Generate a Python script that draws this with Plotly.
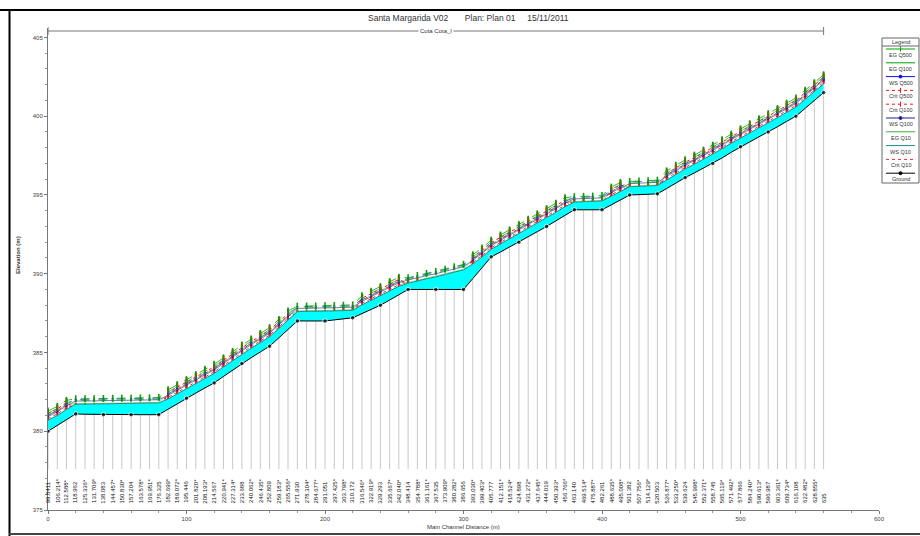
import plotly.graph_objects as go

# ---------------- data ----------------
dist = [0, 6.7, 13.3, 20, 26.7, 33.3, 40, 46.7, 53.3, 60, 66.7, 73.3, 80, 86.7, 93.3,
        100, 106.7, 113.3, 120, 126.7, 133.3, 140, 146.7, 153.3, 160, 166.7, 173.3,
        180, 186.7, 193.3, 200, 206.7, 213.3, 220, 226.7, 233.3, 240, 246.7, 253.3,
        260, 266.7, 273.3, 280, 286.7, 293.3, 300, 306.7, 313.3, 320, 326.7, 333.3,
        340, 346.7, 353.3, 360, 366.7, 373.3, 380, 386.7, 393.3, 400, 406.7, 413.3,
        420, 426.7, 433.3, 440, 446.7, 453.3, 460, 466.7, 473.3, 480, 486.7, 493.3,
        500, 506.7, 513.3, 520, 526.7, 533.3, 540, 546.7, 553.3, 560]

ground = [380.00, 380.37, 380.73, 381.10, 381.08, 381.07, 381.05, 381.05, 381.05, 381.05,
          381.05, 381.05, 381.05, 381.40, 381.75, 382.10, 382.42, 382.75, 383.07, 383.48,
          383.89, 384.30, 384.67, 385.03, 385.40, 385.93, 386.47, 387.00, 387.00, 387.00,
          387.00, 387.07, 387.13, 387.20, 387.47, 387.73, 388.00, 388.33, 388.67, 389.00,
          389.00, 389.00, 389.00, 389.00, 389.00, 389.00, 389.69, 390.38, 391.07, 391.38,
          391.69, 392.00, 392.33, 392.67, 393.00, 393.35, 393.71, 394.06, 394.06, 394.06,
          394.06, 394.37, 394.69, 395.00, 395.02, 395.05, 395.07, 395.41, 395.76, 396.10,
          396.40, 396.70, 397.00, 397.35, 397.71, 398.06, 398.37, 398.69, 399.00, 399.33,
          399.67, 400.00, 400.50, 401.00, 401.50]

ws_q10 = [380.70, 381.00, 381.38, 381.72, 381.72, 381.73, 381.74, 381.75, 381.75, 381.76,
          381.77, 381.78, 381.80, 382.05, 382.38, 382.70, 383.02, 383.35, 383.67, 384.08,
          384.49, 384.90, 385.27, 385.63, 386.00, 386.52, 387.05, 387.60, 387.61, 387.61,
          387.62, 387.64, 387.66, 387.68, 388.02, 388.31, 388.60, 388.92, 389.20, 389.40,
          389.55, 389.68, 389.80, 389.95, 390.10, 390.25, 390.62, 391.05, 391.55, 391.88,
          392.20, 392.55, 392.88, 393.22, 393.55, 393.90, 394.25, 394.55, 394.57, 394.59,
          394.62, 394.92, 395.22, 395.52, 395.55, 395.57, 395.60, 395.95, 396.30, 396.65,
          396.95, 397.27, 397.58, 397.93, 398.28, 398.62, 398.94, 399.26, 399.58, 399.91,
          400.25, 400.58, 401.07, 401.55, 402.05]

ws_q100 = [380.93, 381.23, 381.61, 381.92, 381.92, 381.93, 381.94, 381.95, 381.95, 381.96,
           381.97, 381.98, 382.00, 382.28, 382.61, 382.93, 383.25, 383.58, 383.90, 384.31,
           384.72, 385.13, 385.50, 385.86, 386.23, 386.75, 387.28, 387.80, 387.81, 387.81,
           387.82, 387.84, 387.86, 387.88, 388.25, 388.54, 388.83, 389.15, 389.43, 389.60,
           389.75, 389.88, 390.00, 390.15, 390.30, 390.45, 390.85, 391.28, 391.78, 392.11,
           392.43, 392.78, 393.11, 393.45, 393.78, 394.13, 394.48, 394.75, 394.77, 394.79,
           394.82, 395.15, 395.45, 395.72, 395.75, 395.77, 395.80, 396.18, 396.53, 396.88,
           397.18, 397.50, 397.81, 398.16, 398.51, 398.85, 399.17, 399.49, 399.81, 400.14,
           400.48, 400.81, 401.30, 401.78, 402.28]

ws_q500 = [381.03, 381.33, 381.71, 382.02, 382.02, 382.03, 382.04, 382.05, 382.05, 382.06,
           382.07, 382.08, 382.10, 382.38, 382.71, 383.03, 383.35, 383.68, 384.00, 384.41,
           384.82, 385.23, 385.60, 385.96, 386.33, 386.85, 387.38, 387.90, 387.91, 387.91,
           387.92, 387.94, 387.96, 387.98, 388.35, 388.64, 388.93, 389.25, 389.53, 389.70,
           389.85, 389.98, 390.10, 390.25, 390.40, 390.55, 390.95, 391.38, 391.88, 392.21,
           392.53, 392.88, 393.21, 393.55, 393.88, 394.23, 394.58, 394.85, 394.87, 394.89,
           394.92, 395.25, 395.55, 395.82, 395.85, 395.87, 395.90, 396.28, 396.63, 396.98,
           397.28, 397.60, 397.91, 398.26, 398.61, 398.95, 399.27, 399.59, 399.91, 400.24,
           400.58, 400.91, 401.40, 401.88, 402.38]

eg_q500 = [381.28, 381.58, 381.96, 382.06, 382.06, 382.07, 382.08, 382.09, 382.09, 382.10,
           382.11, 382.12, 382.14, 382.63, 382.96, 383.28, 383.60, 383.93, 384.25, 384.66,
           385.07, 385.48, 385.85, 386.21, 386.58, 387.10, 387.63, 387.94, 387.95, 387.95,
           387.96, 387.98, 388.00, 388.02, 388.60, 388.89, 389.18, 389.50, 389.78, 389.74,
           389.89, 390.02, 390.14, 390.29, 390.44, 390.59, 391.20, 391.63, 392.13, 392.46,
           392.78, 393.13, 393.46, 393.80, 394.13, 394.48, 394.83, 394.89, 394.91, 394.93,
           394.96, 395.50, 395.80, 395.86, 395.89, 395.91, 395.94, 396.53, 396.88, 397.23,
           397.53, 397.85, 398.16, 398.51, 398.86, 399.20, 399.52, 399.84, 400.16, 400.49,
           400.83, 401.16, 401.65, 402.13, 402.63]

eg_q100 = [381.15, 381.45, 381.83, 381.95, 381.95, 381.96, 381.97, 381.98, 381.98, 381.99,
           382.00, 382.01, 382.03, 382.50, 382.83, 383.15, 383.47, 383.80, 384.12, 384.53,
           384.94, 385.35, 385.72, 386.08, 386.45, 386.97, 387.50, 387.83, 387.84, 387.84,
           387.85, 387.87, 387.89, 387.91, 388.47, 388.76, 389.05, 389.37, 389.65, 389.63,
           389.78, 389.91, 390.03, 390.18, 390.33, 390.48, 391.07, 391.50, 392.00, 392.33,
           392.65, 393.00, 393.33, 393.67, 394.00, 394.35, 394.70, 394.78, 394.80, 394.82,
           394.85, 395.37, 395.67, 395.75, 395.78, 395.80, 395.83, 396.40, 396.75, 397.10,
           397.40, 397.72, 398.03, 398.38, 398.73, 399.07, 399.39, 399.71, 400.03, 400.36,
           400.70, 401.03, 401.52, 402.00, 402.50]

eg_q10 = [381.00, 381.30, 381.68, 381.75, 381.75, 381.76, 381.77, 381.78, 381.78, 381.79,
          381.80, 381.81, 381.83, 382.35, 382.68, 383.00, 383.32, 383.65, 383.97, 384.38,
          384.79, 385.20, 385.57, 385.93, 386.30, 386.82, 387.35, 387.63, 387.64, 387.64,
          387.65, 387.67, 387.69, 387.71, 388.32, 388.61, 388.90, 389.22, 389.50, 389.43,
          389.58, 389.71, 389.83, 389.98, 390.13, 390.28, 390.92, 391.35, 391.85, 392.18,
          392.50, 392.85, 393.18, 393.52, 393.85, 394.20, 394.55, 394.58, 394.60, 394.62,
          394.65, 395.22, 395.52, 395.55, 395.58, 395.60, 395.63, 396.25, 396.60, 396.95,
          397.25, 397.57, 397.88, 398.23, 398.58, 398.92, 399.24, 399.56, 399.88, 400.21,
          400.55, 400.88, 401.37, 401.85, 402.35]

crit_q500 = [381.12, 381.42, 381.80, 381.50, 381.48, 381.47, 381.45, 381.45, 381.45, 381.45,
             381.45, 381.45, 381.45, 382.47, 382.80, 383.12, 383.44, 383.77, 384.09, 384.50,
             384.91, 385.32, 385.69, 386.05, 386.42, 386.94, 387.47, 387.40, 387.40, 387.40,
             387.40, 387.47, 387.53, 387.60, 388.44, 388.73, 389.02, 389.34, 389.62, 389.40,
             389.40, 389.40, 389.40, 389.40, 389.40, 389.40, 391.04, 391.47, 391.97, 392.30,
             392.62, 392.97, 393.30, 393.64, 393.97, 394.32, 394.67, 394.46, 394.46, 394.46,
             394.46, 395.34, 395.64, 395.40, 395.42, 395.45, 395.47, 396.37, 396.72, 397.07,
             397.37, 397.69, 398.00, 398.35, 398.70, 399.04, 399.36, 399.68, 400.00, 400.33,
             400.67, 401.00, 401.49, 401.97, 402.47]

crit_q100 = [381.00, 381.30, 381.68, 381.42, 381.40, 381.39, 381.37, 381.37, 381.37, 381.37,
             381.37, 381.37, 381.37, 382.35, 382.68, 383.00, 383.32, 383.65, 383.97, 384.38,
             384.79, 385.20, 385.57, 385.93, 386.30, 386.82, 387.35, 387.32, 387.32, 387.32,
             387.32, 387.39, 387.45, 387.52, 388.32, 388.61, 388.90, 389.22, 389.50, 389.32,
             389.32, 389.32, 389.32, 389.32, 389.32, 389.32, 390.92, 391.35, 391.85, 392.18,
             392.50, 392.85, 393.18, 393.52, 393.85, 394.20, 394.55, 394.38, 394.38, 394.38,
             394.38, 395.22, 395.52, 395.32, 395.34, 395.37, 395.39, 396.25, 396.60, 396.95,
             397.25, 397.57, 397.88, 398.23, 398.58, 398.92, 399.24, 399.56, 399.88, 400.21,
             400.55, 400.88, 401.37, 401.85, 402.35]

crit_q10 = [380.80, 381.10, 381.48, 381.32, 381.30, 381.29, 381.27, 381.27, 381.27, 381.27,
            381.27, 381.27, 381.27, 382.15, 382.48, 382.80, 383.12, 383.45, 383.77, 384.18,
            384.59, 385.00, 385.37, 385.73, 386.10, 386.62, 387.15, 387.22, 387.22, 387.22,
            387.22, 387.29, 387.35, 387.42, 388.12, 388.41, 388.70, 389.02, 389.30, 389.22,
            389.22, 389.22, 389.22, 389.22, 389.22, 389.22, 390.72, 391.15, 391.65, 391.98,
            392.30, 392.65, 392.98, 393.32, 393.65, 394.00, 394.35, 394.28, 394.28, 394.28,
            394.28, 395.02, 395.32, 395.22, 395.24, 395.27, 395.29, 396.05, 396.40, 396.75,
            397.05, 397.37, 397.68, 398.03, 398.38, 398.72, 399.04, 399.36, 399.68, 400.01,
            400.35, 400.68, 401.17, 401.65, 402.15]

station_labels = [
    "99.8411", "106.214*", "112.588*",
    "118.962", "125.336*", "131.709*",
    "138.083", "144.457*", "150.830*",
    "157.204", "163.578*", "169.951*",
    "176.325", "182.699*", "189.072*",
    "195.446", "201.820*", "208.193*",
    "214.567", "220.941*", "227.314*",
    "233.688", "240.062*", "246.435*",
    "252.809", "259.183*", "265.556*",
    "271.930", "278.304*", "284.677*",
    "291.051", "297.425*", "303.798*",
    "310.172", "316.546*", "322.919*",
    "329.293", "335.667*", "342.040*",
    "348.414", "354.788*", "361.161*",
    "367.535", "373.909*", "380.282*",
    "386.656", "393.030*", "399.403*",
    "405.777", "412.151*", "418.524*",
    "424.898", "431.272*", "437.645*",
    "444.019", "450.393*", "456.766*",
    "463.140", "469.514*", "475.887*",
    "482.261", "488.635*", "495.008*",
    "501.382", "507.756*", "514.129*",
    "520.503", "526.877*", "533.250*",
    "539.624", "545.998*", "552.371*",
    "558.745", "565.119*", "571.492*",
    "577.866", "584.240*", "590.613*",
    "596.987", "603.361*", "609.734*",
    "616.108", "622.482*", "628.855*",
    "635"]

# surveyed (non-interpolated) sections carry ground markers
surveyed = [not lab.endswith("*") for lab in station_labels]

title_text = "Santa Margarida V02       Plan: Plan 01     15/11/2011"
reach_name = "Cota Cota_I"

# ---------------- geometry helpers (pixels -> paper) ----------------
L, R, T, B = 48, 879, 28, 510
def px(x):
    return (x - L) / (R - L)
def py(y):
    return (B - y) / (B - T)

FONT = "Arial, Liberation Sans, sans-serif"
GREEN = "#00a000"
GREEN2 = "#40b040"
BLUE = "#1010ff"
BLUE2 = "#202090"
RED = "#ff1010"
RED2 = "#e03030"
TEAL = "#109090"

fig = go.Figure()

# vertical cross-section lines
vx, vy = [], []
for d, g in zip(dist, ground):
    vx += [d, d, None]
    vy += [g, 377.6, None]
fig.add_trace(go.Scatter(x=vx, y=vy, mode="lines", line=dict(color="#c8c8c8", width=1),
                         hoverinfo="skip", showlegend=False))

# critical depth lines (drawn beneath the water fill)
fig.add_trace(go.Scatter(x=dist, y=crit_q10, mode="lines", name="Crit Q10",
                         line=dict(color=RED2, width=1, dash="dot"), showlegend=False))
fig.add_trace(go.Scatter(x=dist, y=crit_q100, mode="lines+markers", name="Crit Q100",
                         line=dict(color=RED, width=1, dash="dot"),
                         marker=dict(symbol="line-ns", size=7, line=dict(color=RED, width=2)),
                         showlegend=False))
fig.add_trace(go.Scatter(x=dist, y=crit_q500, mode="lines+markers", name="Crit Q500",
                         line=dict(color=RED, width=1, dash="dot"),
                         marker=dict(symbol="line-ns", size=7, line=dict(color=RED, width=2)),
                         showlegend=False))

# water fill between ground and WS Q10
fig.add_trace(go.Scatter(x=dist, y=ground, mode="lines", line=dict(color="rgba(0,0,0,0)", width=0),
                         hoverinfo="skip", showlegend=False))
fig.add_trace(go.Scatter(x=dist, y=ws_q10, mode="lines", name="WS Q10", fill="tonexty",
                         fillcolor="#00ffff", line=dict(color=TEAL, width=1), showlegend=False))

# water surfaces
fig.add_trace(go.Scatter(x=dist, y=ws_q100, mode="lines+markers", name="WS Q100",
                         line=dict(color=BLUE2, width=0.6),
                         marker=dict(symbol="circle", size=2, color=BLUE2),
                         showlegend=False))
fig.add_trace(go.Scatter(x=dist, y=ws_q500, mode="lines+markers", name="WS Q500",
                         line=dict(color=BLUE, width=0.6, dash="dash"),
                         marker=dict(symbol="circle", size=2.2, color=BLUE),
                         showlegend=False))

# energy grade lines
fig.add_trace(go.Scatter(x=dist, y=eg_q10, mode="lines", name="EG Q10",
                         line=dict(color=GREEN2, width=0.6), showlegend=False))
fig.add_trace(go.Scatter(x=dist, y=eg_q100, mode="lines", name="EG Q100",
                         line=dict(color=GREEN, width=0.6, dash="dash"),
                         showlegend=False))
fig.add_trace(go.Scatter(x=dist, y=eg_q500, mode="lines+markers", name="EG Q500",
                         line=dict(color=GREEN, width=0.8, dash="dash"),
                         marker=dict(symbol="line-ns", size=5, line=dict(color=GREEN, width=1.6)),
                         showlegend=False))

# ground
fig.add_trace(go.Scatter(x=dist, y=ground, mode="lines+markers", name="Ground",
                         line=dict(color="#000000", width=1),
                         marker=dict(symbol="circle", color="#000000",
                                     size=[4.5 if s else 0 for s in surveyed]),
                         showlegend=False))

annotations = []
shapes = []

# station labels
for d, lab in zip(dist, station_labels):
    annotations.append(dict(x=d, y=375.3, xref="x", yref="y", text=lab, showarrow=False,
                            textangle=-90, xanchor="center", yanchor="bottom",
                            font=dict(family=FONT, size=6, color="#111")))

# title
annotations.append(dict(x=px(468), y=py(18), xref="paper", yref="paper", text=title_text,
                        showarrow=False, font=dict(family=FONT, size=8.5, color="#333"),
                        xanchor="center", yanchor="middle"))
# reach bar
shapes.append(dict(type="line", xref="x", yref="paper", x0=dist[0], x1=dist[-1],
                   y0=py(31), y1=py(31), line=dict(color="#777", width=1)))
for xe in (dist[0], dist[-1]):
    shapes.append(dict(type="line", xref="x", yref="paper", x0=xe, x1=xe,
                       y0=py(27), y1=py(35), line=dict(color="#777", width=1)))
annotations.append(dict(x=(dist[0] + dist[-1]) / 2, y=py(31), xref="x", yref="paper",
                        text=reach_name, showarrow=False, bgcolor="white",
                        font=dict(family=FONT, size=6, color="#333"),
                        xanchor="center", yanchor="middle"))

# axis titles
annotations.append(dict(x=px(18), y=py(255), xref="paper", yref="paper", text="<b>Elevation (m)</b>",
                        showarrow=False, textangle=-90, font=dict(family=FONT, size=6, color="#333"),
                        xanchor="center", yanchor="middle"))
annotations.append(dict(x=px(463), y=py(527), xref="paper", yref="paper",
                        text="Main Channel Distance (m)", showarrow=False,
                        font=dict(family=FONT, size=6, color="#333"),
                        xanchor="center", yanchor="middle"))

# outer frame
shapes.append(dict(type="line", xref="paper", yref="paper", x0=px(0), x1=px(920),
                   y0=py(10), y1=py(10), line=dict(color="#000", width=2)))
shapes.append(dict(type="line", xref="paper", yref="paper", x0=px(9.5), x1=px(9.5),
                   y0=py(10), y1=py(536), line=dict(color="#000", width=2)))
shapes.append(dict(type="line", xref="paper", yref="paper", x0=px(9), x1=px(920),
                   y0=py(534), y1=py(534), line=dict(color="#444", width=2)))

# legend box
LX0, LX1 = 882, 919
shapes.append(dict(type="rect", xref="paper", yref="paper", x0=px(LX0), x1=px(LX1),
                   y0=py(38), y1=py(183), line=dict(color="#666", width=1), fillcolor="white"))
annotations.append(dict(x=px((LX0 + LX1) / 2), y=py(42), xref="paper", yref="paper", text="Legend",
                        showarrow=False, font=dict(family=FONT, size=5.5, color="#333"),
                        xanchor="center", yanchor="middle"))
shapes.append(dict(type="line", xref="paper", yref="paper", x0=px(LX0), x1=px(LX1),
                   y0=py(46), y1=py(46), line=dict(color="#666", width=1)))
legend_items = [
    ("EG Q500", GREEN, "solid", "tick"),
    ("EG Q100", GREEN, "solid", None),
    ("WS Q500", BLUE, "solid", "dot"),
    ("Crit Q500", RED, "dot", "tick"),
    ("Crit Q100", RED, "dot", "tick"),
    ("WS Q100", BLUE2, "solid", "dot"),
    ("EG Q10", GREEN2, "solid", None),
    ("WS Q10", TEAL, "solid", None),
    ("Crit Q10", RED2, "dot", None),
    ("Ground", "#000", "solid", "dot"),
]
for i, (name, col, dash, mk) in enumerate(legend_items):
    ty = 54 + i * 13.8
    ly = ty - 5
    shapes.append(dict(type="line", xref="paper", yref="paper", x0=px(LX0 + 4), x1=px(LX1 - 4),
                       y0=py(ly), y1=py(ly), line=dict(color=col, width=1, dash=dash)))
    cx = (LX0 + LX1) / 2
    if mk == "dot":
        shapes.append(dict(type="circle", xref="paper", yref="paper", x0=px(cx - 1.5), x1=px(cx + 1.5),
                           y0=py(ly - 1.5), y1=py(ly + 1.5), line=dict(color=col, width=1),
                           fillcolor=col))
    elif mk == "tick":
        shapes.append(dict(type="line", xref="paper", yref="paper", x0=px(cx), x1=px(cx),
                           y0=py(ly - 2.5), y1=py(ly + 2.5), line=dict(color=col, width=1)))
    annotations.append(dict(x=px(cx), y=py(ty + 1), xref="paper", yref="paper", text=name,
                            showarrow=False, font=dict(family=FONT, size=5.5, color="#333"),
                            xanchor="center", yanchor="middle"))

fig.update_layout(
    width=920, height=536,
    margin=dict(l=L, r=920 - R, t=T, b=536 - B),
    paper_bgcolor="white", plot_bgcolor="white",
    showlegend=False,
    annotations=annotations, shapes=shapes,
    xaxis=dict(range=[0, 600], tickvals=[0, 100, 200, 300, 400, 500, 600],
               showgrid=False, zeroline=False, showline=True, linecolor="#777", linewidth=1,
               ticks="outside", ticklen=3, tickcolor="#777",
               tickfont=dict(family=FONT, size=6, color="#444"),
               minor=dict(ticks="outside", ticklen=2, dtick=20, tickcolor="#999")),
    yaxis=dict(range=[375, 405.6], tickvals=[375, 380, 385, 390, 395, 400, 405],
               showgrid=False, zeroline=False, showline=True, linecolor="#777", linewidth=1,
               ticks="outside", ticklen=3, tickcolor="#777",
               tickfont=dict(family=FONT, size=6, color="#444"),
               minor=dict(ticks="outside", ticklen=2, dtick=1, tickcolor="#999")),
)

fig.write_html("out.html", config={"displayModeBar": False},
               post_script="document.body.style.margin='0';document.body.style.overflow='hidden';")
